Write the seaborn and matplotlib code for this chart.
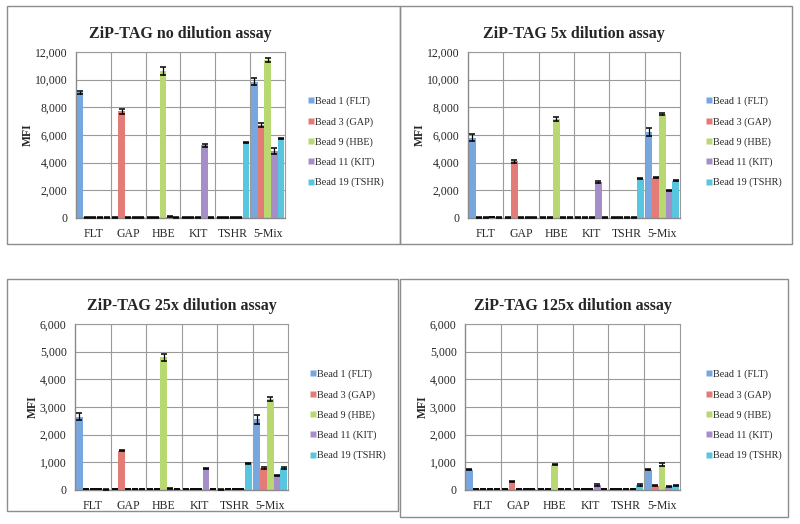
import numpy as np
import pandas as pd
import matplotlib
matplotlib.use("Agg")
import matplotlib.pyplot as plt
import seaborn as sns
from matplotlib.patches import Rectangle
from matplotlib.lines import Line2D

targets = ["FLT", "GAP", "HBE", "KIT", "TSHR", "5-Mix"]
beads = ["Bead 1 (FLT)", "Bead 3 (GAP)", "Bead 9 (HBE)", "Bead 11 (KIT)", "Bead 19 (TSHR)"]
bead_colors = ["#78A6DE", "#E37B77", "#B8D972", "#A68FC8", "#58C6DF"]

titles = ["ZiP-TAG no dilution assay", "ZiP-TAG 5x dilution assay",
          "ZiP-TAG 25x dilution assay", "ZiP-TAG 125x dilution assay"]
y_max = [12000, 12000, 6000, 6000]
y_step = [2000, 2000, 1000, 1000]

# MFI, rows = target sample, columns = bead
mfi_none = [[9100, 50, 50, 50, 40],
            [50, 7700, 50, 50, 40],
            [50, 40, 10650, 100, 50],
            [40, 40, 50, 5250, 50],
            [40, 40, 50, 50, 5450],
            [9850, 6750, 11400, 4850, 5750]]
err_none = [[100, 20, 20, 20, 10],
            [20, 150, 20, 20, 10],
            [20, 10, 300, 40, 20],
            [10, 10, 20, 100, 20],
            [10, 10, 20, 20, 50],
            [250, 150, 150, 200, 50]]

mfi_5x = [[5800, 30, 30, 60, 30],
          [30, 4100, 30, 30, 30],
          [30, 30, 7150, 50, 30],
          [30, 30, 30, 2600, 30],
          [30, 30, 30, 50, 2850],
          [6200, 2900, 7500, 2000, 2700]]
err_5x = [[250, 10, 10, 20, 10],
          [10, 100, 10, 10, 10],
          [10, 10, 150, 20, 10],
          [10, 10, 10, 50, 10],
          [10, 10, 10, 20, 30],
          [300, 30, 80, 50, 30]]

mfi_25x = [[2650, 30, 30, 30, 20],
           [30, 1420, 30, 30, 30],
           [30, 30, 4800, 50, 30],
           [30, 30, 30, 780, 40],
           [20, 30, 30, 30, 960],
           [2550, 800, 3280, 520, 800]]
err_25x = [[130, 10, 10, 10, 5],
           [10, 20, 10, 10, 10],
           [10, 10, 120, 20, 10],
           [10, 10, 10, 30, 10],
           [5, 10, 10, 10, 20],
           [150, 30, 70, 30, 30]]

mfi_125x = [[740, 30, 30, 30, 30],
            [30, 310, 30, 30, 30],
            [30, 30, 920, 30, 30],
            [30, 30, 30, 180, 30],
            [30, 30, 30, 30, 180],
            [740, 150, 920, 120, 150]]
err_125x = [[30, 10, 10, 10, 10],
            [10, 20, 10, 10, 10],
            [10, 10, 20, 10, 10],
            [10, 10, 10, 30, 10],
            [10, 10, 10, 10, 20],
            [30, 20, 60, 20, 20]]

panels = [(mfi_none, err_none), (mfi_5x, err_5x), (mfi_25x, err_25x), (mfi_125x, err_125x)]

sns.set_theme(style="white")
plt.rcParams['font.family'] = ['Liberation Serif', 'DejaVu Serif']

fig = plt.figure(figsize=(8, 5.24), dpi=100)
W, H = 800, 524

# panel frames (px) and plot areas (px): left, top, right, bottom
frames = [(7, 6, 400, 244), (400, 6, 792, 244), (7, 279, 398, 511), (400, 279, 788, 517)]
areas = [(76, 52, 285, 218), (468, 52, 680, 218), (75, 324, 288, 490), (465, 324, 680, 490)]
legend_xy = [(303, 142), (701, 142), (305, 415), (701, 415)]

for fr in frames:
    l, t, r, b = fr
    fig.patches.append(Rectangle((l / W, 1 - b / H), (r - l) / W, (b - t) / H,
                                 transform=fig.transFigure, fill=False,
                                 edgecolor="#8c8c8c", linewidth=1.0))

for i, (vals, errs) in enumerate(panels):
    l, t, r, b = areas[i]
    ax = fig.add_axes([l / W, 1 - b / H, (r - l) / W, (b - t) / H])
    df = pd.DataFrame(vals, index=targets, columns=beads).reset_index(names="target")
    df = df.melt(id_vars="target", var_name="bead", value_name="mfi")
    ef = pd.DataFrame(errs, index=targets, columns=beads).reset_index(names="target")
    ef = ef.melt(id_vars="target", var_name="bead", value_name="err")
    df = df.merge(ef, on=["target", "bead"])

    sns.barplot(data=df, x="target", y="mfi", hue="bead", order=targets,
                hue_order=beads, palette=bead_colors, errorbar=None,
                width=0.95, ax=ax, legend=False, linewidth=0, saturation=1)

    # error bars on top of each bar
    for j, bead in enumerate(beads):
        cont = ax.containers[j]
        sub = df[df["bead"] == bead].set_index("target").loc[targets]
        xs = [p.get_x() + p.get_width() / 2 for p in cont.patches]
        ax.errorbar(xs, sub["mfi"], yerr=sub["err"], fmt="none", ecolor="black",
                    elinewidth=0.9, capsize=2, capthick=1.1, zorder=5)

    ax.set_xlim(-0.5, 5.5)
    ax.set_ylim(0, y_max[i])
    ax.set_yticks(np.arange(0, y_max[i] + 1, y_step[i]))
    ax.yaxis.set_major_formatter(matplotlib.ticker.StrMethodFormatter("{x:,.0f}"))
    ax.set_xticks(range(len(targets)))
    ax.set_xticklabels(targets)
    ax.set_xticks(np.arange(0.5, 5.5, 1), minor=True)
    ax.grid(True, axis="y", color="#9a9a9a", linewidth=0.8)
    ax.grid(True, axis="x", which="minor", color="#9a9a9a", linewidth=0.8)
    ax.set_axisbelow(True)
    for s in ["top", "right"]:
        ax.spines[s].set_color("#9a9a9a")
        ax.spines[s].set_linewidth(0.8)
    for s in ["left", "bottom"]:
        ax.spines[s].set_color("#8a8a8a")
        ax.spines[s].set_linewidth(1.0)
    ax.tick_params(axis="y", which="major", labelsize=8.5, length=0, pad=6)
    ax.tick_params(axis="x", which="major", labelsize=8.5, length=0, pad=7)
    ax.tick_params(axis="both", which="minor", length=0)
    ax.set_xlabel("")
    ax.set_ylabel("MFI", fontsize=8.5, fontweight="bold", labelpad=1)
    ax.set_title(titles[i], fontsize=11.5, fontweight="bold", pad=10)

    handles = [Line2D([0], [0], marker="s", color="none", markerfacecolor=c,
                      markeredgecolor="none", markersize=4.5) for c in bead_colors]
    lx, ly = legend_xy[i]
    fig.legend(handles, beads, loc="center left",
               bbox_to_anchor=(lx / W, 1 - ly / H), frameon=False,
               fontsize=7.3, handlelength=0.5, handletextpad=0.2,
               labelspacing=1.05, borderpad=0)

fig.savefig("out.png", dpi=100)
